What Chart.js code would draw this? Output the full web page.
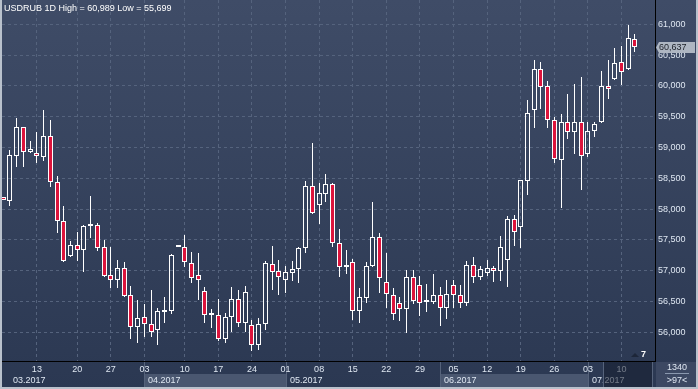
<!DOCTYPE html>
<html>
<head>
<meta charset="utf-8">
<script src="https://cdn.jsdelivr.net/npm/chart.js@4.4.1/dist/chart.umd.min.js"></script>
<style>
  html, body { margin: 0; padding: 0; background: #2d3a56; }
  canvas { display: block; }
</style>
</head>
<body>
<canvas id="chart" width="698" height="389"></canvas>
<script>
// USDRUB daily candles, 06.03.2017 - 12.07.2017
const opens = [
  58190, 58136, 58867, 59328, 58932, 58911, 58851, 59187, 58435, 57802,
  57234, 57412, 57331, 57730, 57737, 57385, 56925, 56854, 57039, 56601,
  56091, 56243, 56130, 56032, 56335, 56341, 57385, 57380, 57120, 56925,
  56666, 56276, 56276, 55886, 56243, 56536, 56146, 56113, 55789, 56130,
  57104, 56990, 56854, 56968, 57023, 57364, 58370, 58062, 58240, 58403,
  57445, 57060, 57136, 56350, 56562, 57081, 57552, 56812, 56601, 56471,
  56373, 56893, 56763, 56490, 56497, 56601, 56399, 56763, 56601, 56480,
  57088, 56903, 56958, 57039, 56990, 57169, 57834, 57704, 58461, 59604,
  60269, 59994, 59442, 58792, 59409, 59247, 59409, 58890, 59263, 59409,
  59994, 60107, 60388, 60269, 60756
];
const highs = [
  58200, 58959, 59474, 59330, 59105, 59252, 59609, 59446, 58537, 58050,
  57487, 57628, 57742, 58213, 57770, 57498, 57385, 57174, 57136, 56752,
  56524, 56459, 56687, 56390, 56573, 57266, 57400, 57580, 57304, 57287,
  56730, 56378, 56541, 56313, 56735, 56682, 56752, 56195, 56232, 57157,
  57401, 57174, 57076, 57157, 57390, 58456, 59068, 58424, 58576, 58419,
  57677, 57336, 57195, 56719, 57136, 58115, 57607, 57282, 56724, 56573,
  57011, 57011, 56914, 56784, 56946, 56735, 56849, 56849, 56768, 57157,
  57217, 57081, 57174, 57076, 57563, 57888, 57899, 58480, 59771, 60418,
  60383, 60080, 59490, 59539, 59868, 60031, 60140, 59409, 59414, 60242,
  60418, 60615, 60648, 60989, 60838
];
const lows = [
  58140, 58050, 58688, 58688, 58916, 58753, 58786, 58364, 57607, 57146,
  57220, 57162, 56984, 57536, 57325, 56903, 56724, 56724, 56578, 55896,
  55831, 55929, 55929, 55789, 56156, 56292, 57380, 57065, 56805, 56524,
  56156, 56075, 55864, 55831, 56000, 56081, 56010, 55699, 55710, 56037,
  56687, 56610, 56643, 56838, 56805, 57282, 57916, 57763, 58120, 57390,
  56903, 56946, 56200, 56156, 56480, 57065, 56643, 56399, 56200, 56188,
  55984, 56459, 56270, 56330, 56459, 56107, 56221, 56399, 56390, 56432,
  56805, 56849, 56919, 56812, 56828, 56740, 57406, 57373, 58234, 59317,
  59620, 59312, 58743, 58023, 59143, 58899, 58315, 58850, 59175, 59400,
  59782, 60100, 60019, 60260, 60545
];
const closes = [
  58150, 58878, 59328, 58932, 58971, 58857, 59187, 58435, 57802, 57162,
  57412, 57331, 57726, 57740, 57364, 56919, 56854, 57039, 56594, 56091,
  56227, 56130, 56000, 56341, 56345, 57250, 57395, 57146, 56886, 56854,
  56286, 56313, 55886, 56243, 56536, 56146, 56649, 55789, 56130, 57120,
  56984, 56903, 56974, 57023, 57364, 58370, 57932, 58256, 58403, 57445,
  57055, 57070, 56350, 56568, 57081, 57552, 56877, 56617, 56302, 56373,
  56893, 56503, 56480, 56505, 56601, 56399, 56617, 56601, 56480, 57088,
  56903, 57023, 57039, 56990, 57380, 57834, 57623, 58467, 59555, 60269,
  59977, 59442, 58808, 59409, 59247, 59409, 58857, 59263, 59377, 59994,
  59945, 60372, 60221, 60773, 60637
];

// weekly day ticks (candle index -> day label)
const tickIdx = [5, 11, 16, 21, 27, 32, 37, 42, 47, 52, 57, 62, 67, 72, 77, 82, 87, 92];
const tickLabels = ['13', '20', '27', '03', '10', '17', '24', '01', '08', '15', '22', '29', '05', '12', '19', '26', '03', '10'];

// month row
const monthLabels = ['03.2017', '04.2017', '05.2017', '06.2017', '07.2017'];
const monthStart = [-3, 21, 42, 65, 87];
const monthShaded = [false, true, false, true, false];

const yTicks = [56000, 56500, 57000, 57500, 58000, 58500, 59000, 59500, 60000, 60500, 61000];
const titleText = 'USDRUB 1D High = 60,989 Low = 55,699';
const barsTotal = '1340';
const barsVisible = '>97<';
const markerCount = '7';

const RED = '#dc143c';
const WHITE = '#ffffff';
const GRID = '#55637d';
const TEXT = '#dfe7f2';
const FONT = 'Liberation Sans, Arial, sans-serif';

const fmt = v => String(v).replace(/\B(?=(\d{3})+(?!\d))/g, ',');

const idx = opens.map((_, i) => i);
const upperWicks = idx.map(i => ({ x: i, y: [Math.max(opens[i], closes[i]), highs[i]] }));
const lowerWicks = idx.map(i => ({ x: i, y: [lows[i], Math.min(opens[i], closes[i])] }));
const bodies = idx.map(i => ({ x: i, y: [opens[i], closes[i]] }));
const bodyFill = idx.map(i => closes[i] < opens[i] ? RED : 'rgba(0,0,0,0)');

// keep candles on whole pixels so the 1px wicks and borders stay crisp
const snap = {
    id: 'snap',
    beforeDatasetsDraw(chart) {
        chart.data.datasets.forEach((ds, d) => {
            chart.getDatasetMeta(d).data.forEach(el => {
                el.x = Math.floor(el.x) + 0.5;
                el.y = Math.round(el.y);
                el.base = Math.round(el.base);
            });
        });
    }
};

const decor = {
    id: 'decor',
    beforeDraw(chart) {
        const { ctx, width, height, scales: { x } } = chart;
        const g = ctx.createLinearGradient(0, 0, 0, height);
        g.addColorStop(0, '#3f4c67');
        g.addColorStop(1, '#2b3852');
        ctx.save();
        ctx.fillStyle = g;
        ctx.fillRect(0, 0, width, height);

        // month bands under the day labels
        const bandTop = x.top + 13;
        const bandBot = x.bottom - 2;
        monthLabels.forEach((m, k) => {
            const x0 = Math.max(x.left, Math.round(x.getPixelForValue(monthStart[k])));
            const x1 = k < monthLabels.length - 1 ? Math.round(x.getPixelForValue(monthStart[k + 1])) : x.right;
            if (monthShaded[k]) {
                ctx.fillStyle = '#4a5770';
                ctx.fillRect(x0, bandTop, x1 - x0, bandBot - bandTop);
            }
            if (monthStart[k] >= 0) {
                ctx.fillStyle = '#56637b';
                ctx.fillRect(x0, x.top + 1, 1, bandBot - x.top - 1);
            }
            ctx.fillStyle = TEXT;
            ctx.font = '9px ' + FONT;
            ctx.textBaseline = 'middle';
            ctx.textAlign = 'left';
            ctx.fillText(m, Math.max(x0 + 4, 13), x.top + 19.5);
        });
        ctx.restore();
    },
    afterDraw(chart) {
        const { ctx, width, height, scales: { x, y } } = chart;
        ctx.save();

        // title
        ctx.fillStyle = WHITE;
        ctx.font = '9px ' + FONT;
        ctx.textAlign = 'left';
        ctx.textBaseline = 'alphabetic';
        ctx.fillText(titleText, 4, 11);

        // last price tag
        const last = closes[closes.length - 1];
        const py = Math.round(y.getPixelForValue(last)) + 0.5;
        ctx.fillStyle = '#aeb6c2';
        ctx.beginPath();
        ctx.moveTo(y.left + 1, py);
        ctx.lineTo(y.left + 4, py - 5.5);
        ctx.lineTo(width - 3, py - 5.5);
        ctx.lineTo(width - 3, py + 5.5);
        ctx.lineTo(y.left + 4, py + 5.5);
        ctx.closePath();
        ctx.fill();
        ctx.fillStyle = '#1b1f27';
        ctx.textBaseline = 'middle';
        ctx.fillText(fmt(last), y.left + 4, py);

        // bars counter box
        const bx = y.left + 1, by = x.top + 1, bw = width - 2 - bx, bh = x.bottom - 2 - by;
        ctx.fillStyle = '#3c4862';
        ctx.fillRect(bx, by, bw, bh);
        ctx.fillStyle = TEXT;
        ctx.textAlign = 'center';
        ctx.fillText(barsTotal, bx + bw / 2 + 1, by + 6);
        ctx.fillStyle = '#8a98ae';
        ctx.fillRect(bx + 9, by + 11, bw - 16, 1);
        ctx.fillStyle = TEXT;
        ctx.fillText(barsVisible, bx + bw / 2 + 1, by + 19);

        // small marker near the last bars
        ctx.fillStyle = '#1d2639';
        ctx.beginPath();
        ctx.moveTo(631, x.top - 4);
        ctx.lineTo(639, x.top - 4);
        ctx.lineTo(635, x.top - 8);
        ctx.closePath();
        ctx.fill();
        ctx.fillStyle = WHITE;
        ctx.font = 'bold 9px ' + FONT;
        ctx.textAlign = 'left';
        ctx.fillText(markerCount, 641, x.top - 6);

        // scroll thumb over the last dates
        ctx.fillStyle = 'rgba(22, 30, 46, 0.55)';
        ctx.fillRect(603, x.top + 1, 50, x.bottom - 3 - x.top);
        ctx.fillStyle = '#56637b';
        ctx.fillRect(603, x.top + 1, 1, x.bottom - 3 - x.top);
        ctx.fillRect(652, x.top + 1, 1, x.bottom - 3 - x.top);

        // frame lines
        ctx.fillStyle = '#b9c1cc';
        ctx.fillRect(0, 0, 2, height);
        ctx.fillRect(width - 2, 0, 2, height);
        ctx.fillRect(0, height - 2, width, 2);
        ctx.restore();
    }
};

const noPad = s => { s.paddingTop = 0; s.paddingBottom = 0; s.paddingLeft = 0; s.paddingRight = 0; };
const common = { grouped: false, borderSkipped: false, inflateAmount: 0 };

new Chart(document.getElementById('chart'), {
    type: 'bar',
    data: {
        datasets: [
            { ...common, label: 'high', data: upperWicks, backgroundColor: WHITE, borderWidth: 0, barThickness: 1, order: 3 },
            { ...common, label: 'low', data: lowerWicks, backgroundColor: WHITE, borderWidth: 0, barThickness: 1, order: 2 },
            { ...common, label: 'body', data: bodies, backgroundColor: bodyFill, borderColor: WHITE, borderWidth: 1, barThickness: 5, minBarLength: 2, order: 1 }
        ]
    },
    options: {
        responsive: false,
        animation: false,
        events: [],
        layout: { padding: { left: 2, top: 0, right: 0, bottom: 0 } },
        plugins: { legend: { display: false }, tooltip: { enabled: false } },
        scales: {
            x: {
                type: 'linear',
                min: -0.19,
                max: 96.98,
                offset: false,
                afterBuildTicks: s => { s.ticks = tickIdx.map(v => ({ value: v })); },
                afterFit: s => { s.height = 28; noPad(s); },
                grid: { offset: false, color: GRID, drawTicks: false, lineWidth: 1 },
                border: { display: true, color: '#000000', width: 1, dash: [3, 3] },
                ticks: {
                    autoSkip: false,
                    maxRotation: 0,
                    padding: 3,
                    color: TEXT,
                    font: { family: FONT, size: 9 },
                    callback: (v, i) => tickLabels[i]
                }
            },
            y: {
                position: 'right',
                min: 55534,
                max: 61394,
                afterBuildTicks: s => { s.ticks = yTicks.map(v => ({ value: v })); },
                afterFit: s => { s.width = 43; noPad(s); },
                grid: { color: GRID, drawTicks: false, lineWidth: 1 },
                border: { display: true, color: '#000000', width: 1, dash: [3, 3] },
                ticks: {
                    padding: 3,
                    color: TEXT,
                    font: { family: FONT, size: 9 },
                    callback: v => fmt(v)
                }
            }
        }
    },
    plugins: [snap, decor]
});
</script>
</body>
</html>
